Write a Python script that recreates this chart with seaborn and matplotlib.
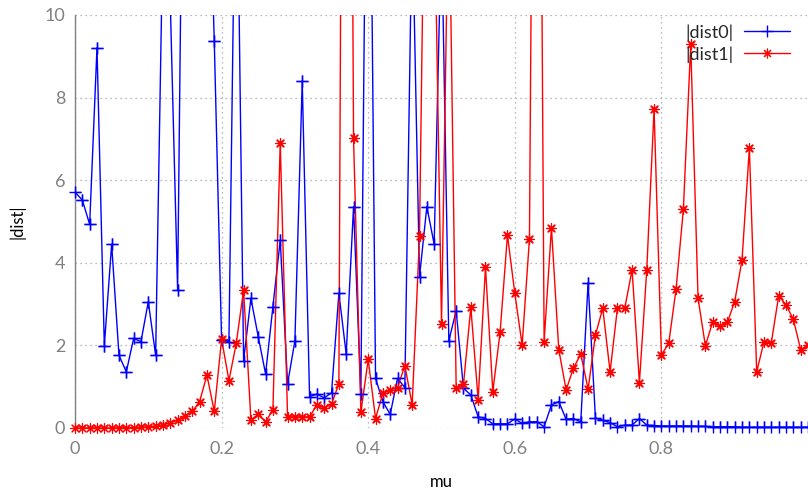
import matplotlib
matplotlib.use("Agg")
import matplotlib.pyplot as plt
import seaborn as sns
import pandas as pd

# x 값 (0.00 ~ 1.00, 0.01 간격)
mu = [i / 100 for i in range(101)]

# |dist0| (파란색)
dist0 = [5.71, 5.52, 4.93, 9.21, 1.99, 4.45, 1.76, 1.36, 2.17, 2.09,
         3.06, 1.76, 12.1, 10.3, 3.34, 20.0, 24.0, 19.0, 15.5, 9.37,
         2.13, 2.09, 15.5, 1.63, 3.14, 2.21, 1.31, 2.94, 4.55, 1.07,
         2.11, 8.40, 0.76, 0.82, 0.73, 0.85, 3.26, 1.79, 5.36, 0.82,
         20.0, 1.20, 0.64, 0.33, 1.20, 0.98, 12.5, 3.66, 5.36, 4.45,
         12.2, 2.11, 2.84, 0.96, 0.80, 0.27, 0.23, 0.10, 0.10, 0.10,
         0.22, 0.11, 0.15, 0.15, 0.03, 0.56, 0.64, 0.21, 0.23, 0.15,
         3.52, 0.24, 0.19, 0.13, 0.03, 0.07, 0.07, 0.23, 0.07, 0.06,
         0.05, 0.05, 0.05, 0.05, 0.05, 0.04, 0.04, 0.03, 0.03, 0.03,
         0.03, 0.02, 0.02, 0.02, 0.02, 0.02, 0.02, 0.02, 0.02, 0.02,
         0.02]

# |dist1| (빨간색)
dist1 = [0.0, 0.0, 0.0, 0.0, 0.0, 0.0, 0.0, 0.01, 0.01, 0.02,
         0.03, 0.05, 0.08, 0.12, 0.19, 0.29, 0.40, 0.64, 1.28, 0.40,
         2.15, 1.15, 2.05, 3.34, 0.19, 0.33, 0.15, 0.44, 6.91, 0.27,
         0.27, 0.27, 0.27, 0.56, 0.48, 0.58, 1.07, 40.0, 7.01, 0.38,
         1.66, 0.23, 0.84, 0.92, 0.98, 1.51, 0.56, 4.65, 18.0, 13.2,
         2.53, 13.5, 0.98, 1.06, 2.92, 0.69, 3.89, 0.88, 2.33, 4.67,
         3.26, 2.01, 4.58, 30.0, 2.09, 4.85, 1.90, 0.92, 1.45, 1.79,
         0.94, 2.25, 2.90, 1.36, 2.90, 2.90, 3.83, 1.10, 3.82, 7.72,
         1.77, 2.05, 3.36, 5.30, 9.29, 3.14, 1.99, 2.57, 2.47, 2.56,
         3.06, 4.07, 6.77, 1.36, 2.09, 2.07, 3.20, 2.98, 2.63, 1.90,
         2.00]

df = pd.DataFrame({"mu": mu, "dist0": dist0, "dist1": dist1})

sns.set_style("white")
plt.rcParams['font.family'] = ['Lato', 'DejaVu Sans']

fig = plt.figure(figsize=(8.08, 4.92), dpi=100)
ax = fig.add_axes([75 / 808, 64 / 492, 733 / 808, 413 / 492])

star = (8, 2, 0)

sns.lineplot(data=df, x="mu", y="dist0", ax=ax, color="#0000ff", lw=1,
             marker="+", markersize=9, markeredgewidth=1,
             markeredgecolor="#0000ff", label="|dist0|")
sns.lineplot(data=df, x="mu", y="dist1", ax=ax, color="#ff0000", lw=1,
             marker=star, markersize=7, markeredgewidth=0.8,
             markeredgecolor="#ff0000", label="|dist1|")

# 축 경계의 점은 잘리지 않게 (gnuplot 처럼)
sns.scatterplot(data=df[df["dist0"] <= 10], x="mu", y="dist0", ax=ax,
                marker="+", s=81, color="#0000ff", linewidth=1,
                clip_on=False, legend=False, zorder=3)
sns.scatterplot(data=df[df["dist1"] <= 10], x="mu", y="dist1", ax=ax,
                marker=star, s=49, color="#ff0000", edgecolor="#ff0000",
                linewidth=0.8, clip_on=False, legend=False, zorder=3)

ax.set_xlim(0, 1)
ax.set_ylim(0, 10)
ax.set_xticks([0, 0.2, 0.4, 0.6, 0.8])
ax.set_xticklabels(["0", "0.2", "0.4", "0.6", "0.8"])
ax.set_yticks([0, 2, 4, 6, 8, 10])

# 격자 / 축 스타일
ax.grid(True, color="#a0a0a0", linestyle=(0, (1, 3)), linewidth=0.9)
for s in ["top", "right", "bottom"]:
    ax.spines[s].set_visible(False)
ax.spines["left"].set_color("#808080")
ax.spines["left"].set_linewidth(1)
ax.tick_params(axis="both", direction="in", length=4, width=1,
               color="#808080", labelcolor="#808080", labelsize=13)
ax.tick_params(axis="y", pad=7)
ax.tick_params(axis="x", pad=9)

ax.set_xlabel("mu", fontsize=12, color="black")
ax.set_ylabel("|dist|", fontsize=12, color="black")
ax.xaxis.set_label_coords(0.5, -0.111)
ax.yaxis.set_label_coords(-0.068, 0.5)

ax.legend(loc="upper right", bbox_to_anchor=(0.975, 0.978), frameon=False,
          markerfirst=False, fontsize=13, handlelength=2.55,
          labelspacing=0.3, handletextpad=0.55, borderaxespad=0,
          borderpad=0)

fig.savefig("out.png", dpi=100)
